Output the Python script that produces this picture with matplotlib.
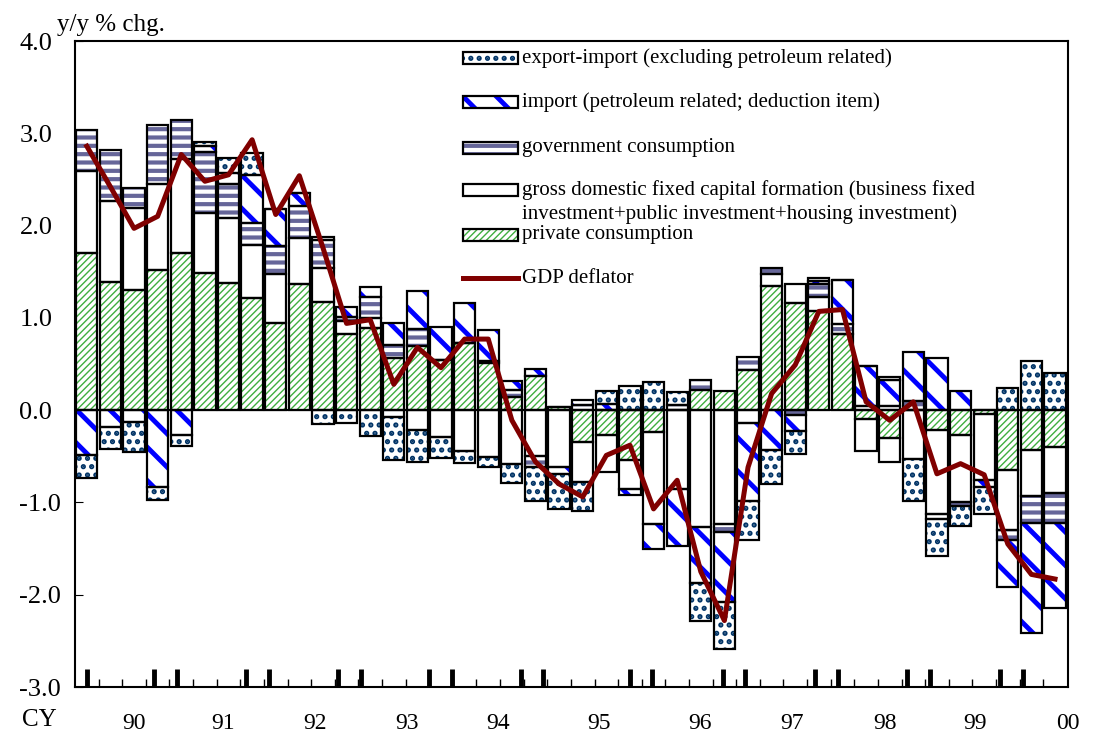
import numpy as np
import matplotlib
matplotlib.use("Agg")
from matplotlib import pyplot as plt
from matplotlib.patches import Rectangle
from matplotlib.lines import Line2D

plt.rcParams['font.family'] = ['Liberation Serif', 'DejaVu Serif']

# contributions, quarterly (y/y % chg.)
private_cons = [1.70, 1.39, 1.30, 1.52, 1.70, 1.49, 1.38, 1.22, 0.94, 1.37,
                1.17, 0.82, 0.89, 0.56, 0.70, 0.54, 0.73, 0.51, 0.14, 0.37,
                0.03, -0.34, -0.27, -0.54, -0.24, 0.00, 0.22, 0.21, 0.44, 1.35,
                1.16, 1.07, 0.82, -0.10, -0.30, 0.00, -0.22, -0.27, -0.04, -0.65,
                -0.43, -0.40]
fixed_capital = [0.89, 0.88, 0.89, 0.93, 1.02, 0.65, 0.70, 0.57, 0.53, 0.50,
                 0.37, 0.15, 0.11, -0.07, -0.22, -0.29, -0.44, -0.51, -0.58, -0.50,
                 -0.62, -0.44, -0.40, -0.31, -0.99, -0.85, -1.27, -1.23, -0.14, 0.13,
                 0.21, 0.16, 0.00, -0.34, -0.26, -0.53, -0.90, -0.73, -0.72, -0.65,
                 -0.50, -0.50]
gov_cons = [0.45, 0.55, 0.22, 0.64, 0.42, 0.66, 0.37, 0.24, 0.31, 0.34,
            0.30, 0.04, 0.23, 0.15, 0.18, 0.00, 0.00, 0.02, 0.08, -0.12,
            0.00, 0.06, 0.00, 0.00, 0.00, 0.06, 0.11, -0.09, 0.14, 0.06,
            -0.05, 0.14, 0.11, 0.05, 0.05, 0.10, -0.06, -0.04, 0.00, -0.11,
            -0.29, -0.32]
import_petro = [-0.49, -0.18, -0.13, -0.83, -0.27, 0.06, 0.12, 0.52, 0.40, 0.14,
                0.04, 0.11, 0.10, 0.23, 0.41, 0.36, 0.43, 0.34, 0.10, 0.08,
                -0.07, 0.05, 0.07, -0.07, -0.27, -0.62, -0.60, -0.76, -0.84, -0.43,
                -0.18, 0.03, 0.48, 0.43, 0.28, 0.53, 0.57, 0.21, -0.07, -0.51,
                -1.19, -0.92]
export_import = [-0.25, -0.24, -0.32, -0.14, -0.12, 0.05, 0.16, 0.24, 0.00, 0.00,
                 -0.15, -0.14, -0.28, -0.47, -0.34, -0.23, -0.13, -0.11, -0.21, -0.36,
                 -0.38, -0.31, 0.14, 0.26, 0.30, 0.14, -0.41, -0.51, -0.43, -0.37,
                 -0.24, 0.03, 0.00, 0.00, 0.03, -0.45, -0.40, -0.21, -0.29, 0.24,
                 0.53, 0.40]
gdp_deflator = [2.86, 2.42, 1.97, 2.10, 2.77, 2.48, 2.55, 2.93, 2.12, 2.54,
                1.76, 0.94, 0.98, 0.28, 0.68, 0.46, 0.77, 0.77, -0.11, -0.56,
                -0.80, -0.94, -0.49, -0.38, -1.07, -0.76, -1.75, -2.28, -0.62, 0.18,
                0.49, 1.07, 1.09, 0.09, -0.11, 0.09, -0.69, -0.58, -0.70, -1.45,
                -1.78, -1.83]

year_labels = ['90', '91', '92', '93', '94', '95', '96', '97', '98', '99', '00']
year_pos = [2.0, 5.75, 9.65, 13.55, 17.4, 21.7, 25.95, 29.85, 33.8, 37.6, 41.55]
major_marks = [0, 2.86, 3.82, 6.75, 7.70, 10.63, 11.59, 14.48, 15.46, 18.37, 19.33,
               22.99, 23.95, 26.92, 27.87, 30.83, 31.79, 34.75, 35.70, 38.67, 39.65]

series = [
    # label, values, hatch, hatch colour, hatch width
    ("private consumption", private_cons, "/////", "#3fae3f", 1.0),
    ("gross domestic fixed capital formation (business fixed\n"
     "investment+public investment+housing investment)", fixed_capital, None, "white", 1.0),
    ("government consumption", gov_cons, "--", "#666699", 3.0),
    ("import (petroleum related; deduction item)", import_petro, "\\", "#0000ff", 3.5),
    ("export-import (excluding petroleum related)", export_import, "..", "#003366", 2.5),
]

x = np.arange(len(gdp_deflator))
fig = plt.figure(figsize=(10.93, 7.33), dpi=100)
ax = fig.add_axes([75 / 1093, 46 / 733, 993 / 1093, 646 / 733])

pos_base = np.zeros(len(x))
neg_base = np.zeros(len(x))
for label, vals, hatch, hcol, hlw in series:
    v = np.array(vals)
    bottom = np.where(v >= 0, pos_base, neg_base)
    with plt.rc_context({'hatch.linewidth': hlw}):
        bars = ax.bar(x, v, width=0.9, bottom=bottom, color='white',
                      edgecolor=hcol, linewidth=0, hatch=hatch, zorder=2)
    for b in bars:
        if hasattr(b, 'set_hatch_linewidth'):
            b.set_hatch_linewidth(hlw)
    ax.bar(x, v, width=0.9, bottom=bottom, fill=False, edgecolor='black',
           linewidth=1.6, zorder=3)
    pos_base += np.where(v >= 0, v, 0)
    neg_base += np.where(v < 0, v, 0)

ax.axhline(0, color='black', linewidth=1.5, zorder=3)
ax.plot(x, gdp_deflator, color='#800000', linewidth=3.6, zorder=5)

ax.set_xlim(-0.5, 41.55)
ax.set_ylim(-3, 4)
yt = np.arange(-3, 4.1, 1)
ax.set_yticks(yt)
ax.set_yticklabels([f"{t:.1f}" for t in yt])
ax.tick_params(axis='y', direction='in', length=6, labelsize=19, pad=40)
for lab in ax.get_yticklabels():
    lab.set_horizontalalignment('left')

ax.set_xticks(year_pos)
ax.set_xticklabels(year_labels)
ax.set_xticks(np.arange(0.5, 41, 1), minor=True)
ax.tick_params(axis='x', which='major', length=0, labelsize=17, pad=19)
ax.tick_params(axis='x', which='minor', direction='in', length=6, width=1)
for s in ax.spines.values():
    s.set_linewidth(1.5)

sec = ax.secondary_xaxis('bottom')
sec.set_xticks(major_marks)
sec.set_xticklabels([])
sec.tick_params(direction='in', length=13, width=3.5)
sec.spines['bottom'].set_visible(False)

ax.text(-2.0, -0.051, "CY", transform=ax.get_xaxis_transform(),
        ha='center', va='center', fontsize=18)
ax.text(-0.0181, 1.024, "y/y % chg.", transform=ax.transAxes, ha='left',
        va='center', fontsize=18)

# legend drawn by hand, top entry first
leg_rows = [0.9737, 0.9056, 0.8344, 0.7693, 0.6997]
hx, hw, hh = 0.3907, 0.0554, 0.0186
for (label, vals, hatch, hcol, hlw), yy in zip(series[::-1], leg_rows):
    with plt.rc_context({'hatch.linewidth': hlw}):
        r = Rectangle((hx, yy - hh / 2), hw, hh, transform=ax.transAxes,
                      facecolor='white', edgecolor=hcol, linewidth=0,
                      hatch=hatch, zorder=6)
    if hasattr(r, 'set_hatch_linewidth'):
        r.set_hatch_linewidth(hlw)
    ax.add_patch(r)
    ax.add_patch(Rectangle((hx, yy - hh / 2), hw, hh, transform=ax.transAxes,
                           fill=False, edgecolor='black', linewidth=1.6, zorder=7))
    va = 'top' if '\n' in label else 'center'
    ty = yy + 0.0150 if '\n' in label else yy
    ax.text(hx + hw + 0.004, ty, label, transform=ax.transAxes, ha='left',
            va=va, fontsize=15, linespacing=1.25, zorder=7)
ax.add_line(Line2D([hx, hx + hw], [0.6331, 0.6331], transform=ax.transAxes,
                   color='#800000', linewidth=3.6, zorder=7))
ax.text(hx + hw + 0.004, 0.6331, "GDP deflator", transform=ax.transAxes,
        ha='left', va='center', fontsize=15, zorder=7)

fig.savefig("out.png", dpi=100)
